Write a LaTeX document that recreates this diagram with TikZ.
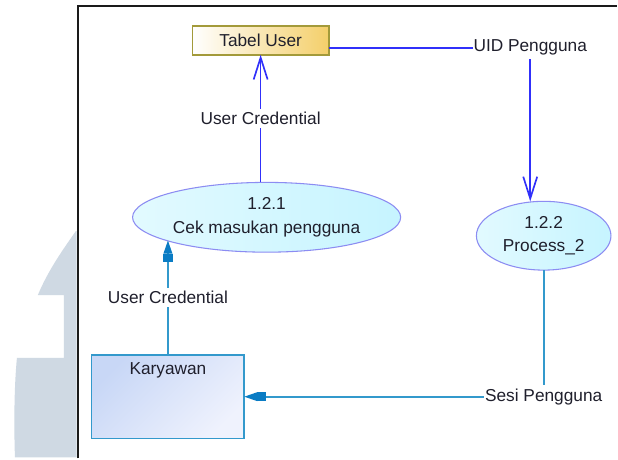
\documentclass[tikz,border=0pt]{standalone}
\usepackage{fontspec}
\setmainfont{Liberation Sans}
\usetikzlibrary{arrows.meta,shapes.geometric}

\definecolor{flowblue}{HTML}{3030FA}
\definecolor{flowsteel}{HTML}{3399CC}
\definecolor{tipsteel}{HTML}{0A7CC4}
\definecolor{storeedge}{HTML}{A39A3A}
\definecolor{storefill}{HTML}{F4CF6A}
\definecolor{procedge}{HTML}{8C8CF2}
\definecolor{procfillA}{HTML}{E2FAFF}
\definecolor{procfillB}{HTML}{C6F4FF}
\definecolor{extfillA}{HTML}{C8D7F6}
\definecolor{extfillB}{HTML}{EFF2FD}
\definecolor{inktext}{HTML}{1F1F2C}
\definecolor{markgrey}{HTML}{CFD9E3}
\definecolor{framegrey}{HTML}{1A1A1A}

\begin{document}
\begin{tikzpicture}[
  x=0.75pt, y=-0.75pt,
  every node/.style={font=\fontsize{13pt}{18pt}\selectfont, text=inktext, outer sep=0pt},
  dbox/.style={draw=storeedge, line width=1.1pt, left color=white, right color=storefill,
               minimum width=102.75pt, minimum height=21.75pt, inner sep=0pt},
  proc/.style={ellipse, draw=procedge, line width=0.8pt, left color=procfillA, right color=procfillB,
               align=center, inner sep=0pt},
  extbox/.style={draw=flowsteel, line width=1.1pt, top color=extfillA, bottom color=extfillB,
                 shading angle=45, minimum width=114.75pt, minimum height=63pt, inner sep=0pt},
  lbl/.style={fill=white, inner xsep=0.5pt, inner ysep=2.5pt},
  flowA/.style={draw=flowblue, line width=1.25pt, -{Straight Barb[length=16.5pt, width=10.5pt]}},
  flowB/.style={draw=flowsteel, line width=1.25pt,
                -{Rectangle[length=6.5pt, width=7pt, sep=0pt, color=tipsteel]
                  Triangle[length=10pt, width=6.5pt, color=tipsteel]}},
  frameline/.style={draw=framegrey, line width=1.6pt}
]
% page and watermark
\fill[white] (0,0) rectangle (618,459);
\fill[markgrey] (76,232) .. controls (62,252) and (48,272) .. (38,296)
  -- (64,296) -- (64,359) -- (17,359) .. controls (14,390) and (14,430) .. (15,459)
  -- (77,459) -- (77,232) -- cycle;
\draw[frameline] (78,460) -- (78,6) -- (619,6);

% nodes
\node[dbox] (tabel) at (261.5,40.5) {Tabel User};
\node[proc, minimum width=201.75pt, minimum height=52.5pt] (p1) at (267.5,218)
  {1.2.1\\Cek masukan pengguna};
\node[proc, minimum width=101.25pt, minimum height=51.75pt] (p2) at (545.5,236.5)
  {1.2.2\\Process\_2};
\node[extbox] (karyawan) at (168.5,398) {};
\node[anchor=north, inner sep=2pt] (karyawantext) at ([yshift=-3.7pt]karyawan.north) {Karyawan};

% connectors
\coordinate (uidc) at (532,48);
\draw[flowA] (tabel.south |- p1.north) -- node[lbl] (uc1) {User Credential} (tabel.south);
\draw[flowA] (tabel.east |- uidc) -- (uidc) node[lbl] (uid) {UID Pengguna} -- (uidc |- p2.north);
\draw[flowB] (p2.south) -- (p2.south |- karyawan.east) node[lbl] (sesi) {Sesi Pengguna} -- (karyawan.east);
\draw[flowB] (karyawan.north) -- node[lbl] (uc2) {User Credential} (karyawan.north |- p1.193.3);
\end{tikzpicture}
\end{document}
